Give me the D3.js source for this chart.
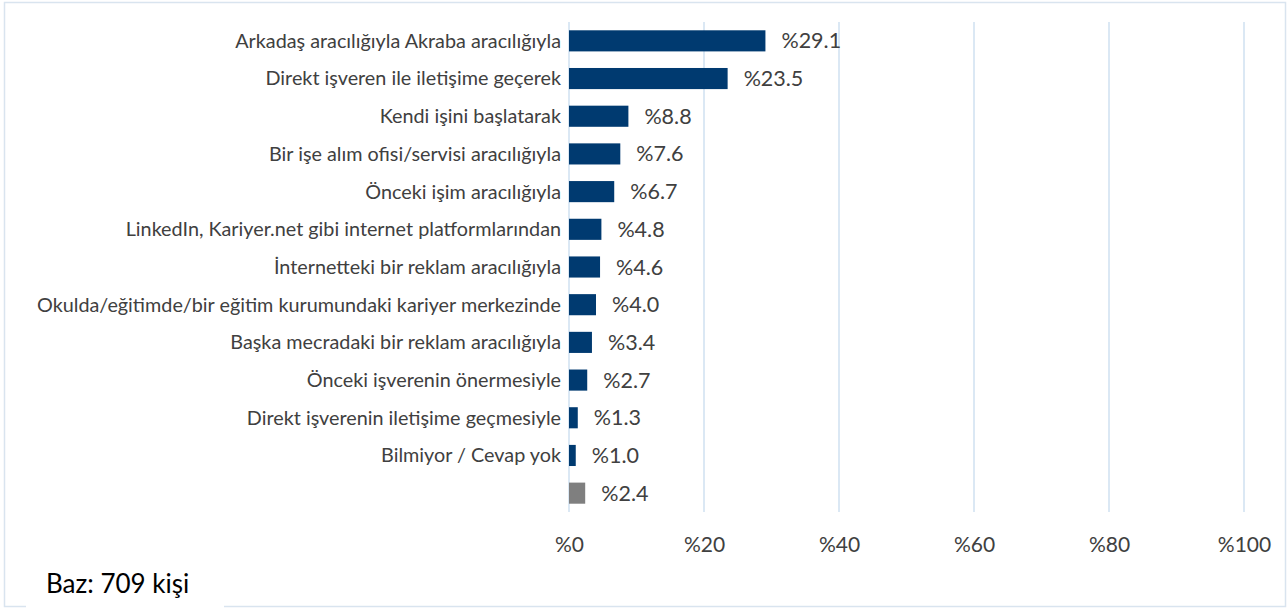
<!DOCTYPE html>
<html><head><meta charset="utf-8">
<script src="https://cdn.jsdelivr.net/npm/d3@7"></script>
<style>
html,body{margin:0;padding:0;background:#fff;}
svg{display:block;}
</style></head>
<body>
<svg id="chart" width="1288" height="608"></svg>
<script>
const categories = [
  "Arkadaş aracılığıyla Akraba aracılığıyla",
  "Direkt işveren ile iletişime geçerek",
  "Kendi işini başlatarak",
  "Bir işe alım ofisi/servisi aracılığıyla",
  "Önceki işim aracılığıyla",
  "LinkedIn, Kariyer.net gibi internet platformlarından",
  "İnternetteki bir reklam aracılığıyla",
  "Okulda/eğitimde/bir eğitim kurumundaki kariyer merkezinde",
  "Başka mecradaki bir reklam aracılığıyla",
  "Önceki işverenin önermesiyle",
  "Direkt işverenin iletişime geçmesiyle",
  "Bilmiyor / Cevap yok",
  ""
];
const values = [29.1, 23.5, 8.8, 7.6, 6.7, 4.8, 4.6, 4.0, 3.4, 2.7, 1.3, 1.0, 2.4];
const tickValues = [0, 20, 40, 60, 80, 100];
const baseNote = "Baz: 709 kişi";

(function () {
const FONT = "Lato, 'Open Sans', sans-serif";
const svg = d3.select("#chart");

// outer border
svg.append("rect").attr("x", 4.5).attr("y", 2.5).attr("width", 1281).attr("height", 604)
  .attr("fill", "#fff").attr("stroke", "#d9e4ef").attr("stroke-width", 1.5);

const pLeft = 569, pRight = 1244, pTop = 22, pBottom = 512;
const x = d3.scaleLinear().domain([0, 100]).range([pLeft, pRight]);
const y = d3.scaleBand().domain(d3.range(categories.length)).range([pTop, pBottom]).paddingInner(0.44).paddingOuter(0.22);

// gridlines
svg.append("g").selectAll("line").data(tickValues).join("line")
  .attr("x1", d => x(d)).attr("x2", d => x(d))
  .attr("y1", pTop).attr("y2", pBottom)
  .attr("stroke", "#cfe0f1").attr("stroke-width", 1.5);

// bars
svg.append("g").selectAll("rect").data(values).join("rect")
  .attr("x", x(0)).attr("y", (d, i) => y(i))
  .attr("width", d => x(d) - x(0)).attr("height", y.bandwidth())
  .attr("fill", (d, i) => i === values.length - 1 ? "#7f7f7f" : "#003a70");

// value labels
svg.append("g").selectAll("text").data(values).join("text")
  .attr("x", d => x(d) + 16).attr("y", (d, i) => y(i) + y.bandwidth() / 2)
  .attr("dy", "0.35em")
  .attr("font-family", FONT).attr("font-size", 21.5).attr("fill", "#404040")
  .text(d => "%" + d.toFixed(1));

// category labels
svg.append("g").selectAll("text").data(categories).join("text")
  .attr("x", pLeft - 8).attr("y", (d, i) => y(i) + y.bandwidth() / 2)
  .attr("dy", "0.35em").attr("text-anchor", "end")
  .attr("font-family", FONT).attr("font-size", 19.8).attr("fill", "#404040")
  .text(d => d);

// x axis
const axis = d3.axisBottom(x).tickValues(tickValues).tickSize(0).tickPadding(0).tickFormat(d => "%" + d);
const ax = svg.append("g").attr("transform", `translate(0,${pBottom + 33})`).call(axis);
ax.select(".domain").remove();
ax.selectAll("text").attr("font-family", FONT).attr("font-size", 21).attr("fill", "#404040").attr("dy", "0.35em").attr("y", 0);

// base note
svg.append("rect").attr("x", 26).attr("y", 560).attr("width", 198).attr("height", 48).attr("fill", "#fff");
svg.append("text").attr("x", 46).attr("y", 584).attr("dy", "0.35em")
  .attr("font-family", FONT).attr("font-size", 26).attr("fill", "#000")
  .text(baseNote);
})();
</script>
</body></html>
